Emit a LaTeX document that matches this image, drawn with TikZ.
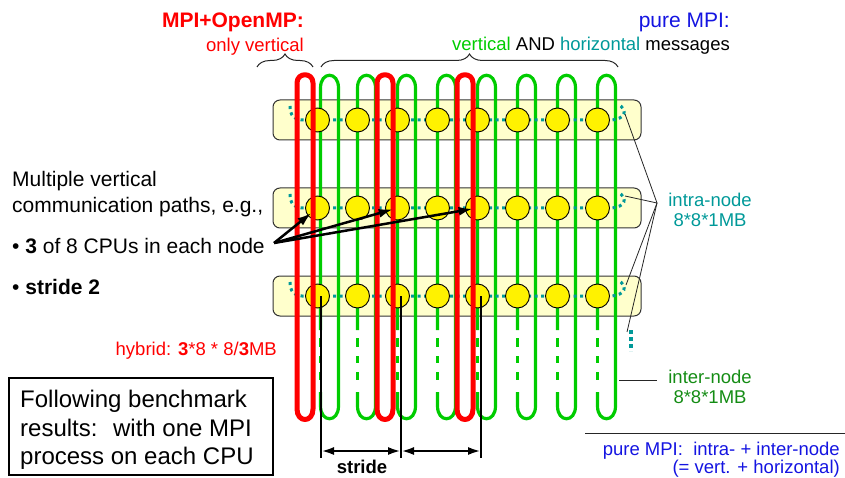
\documentclass[tikz,border=0pt]{standalone}
\usepackage{fontspec}
\setmainfont{Liberation Sans}
\usetikzlibrary{arrows.meta,decorations.pathreplacing}
\definecolor{cred}{RGB}{255,0,0}
\definecolor{cgreen}{RGB}{0,204,0}
\definecolor{cteal}{RGB}{0,153,153}
\definecolor{cdkgreen}{RGB}{20,140,20}
\definecolor{cblue}{RGB}{20,20,225}
\definecolor{cbox}{RGB}{255,255,204}
\begin{document}
\begin{tikzpicture}[x=1pt,y=-1pt,
  nodebox/.style={draw=black!80,fill=cbox,rounded corners=7pt,line width=1pt,minimum width=368pt,minimum height=40pt,inner sep=0pt},
  cpu/.style={circle,draw=black,fill=yellow,line width=0.9pt,minimum size=24pt,inner sep=0pt},
  gloop/.style={draw=cgreen,line width=3.2pt},
  gdash/.style={draw=cgreen,line width=3.2pt,dash pattern=on 9pt off 9pt on 7pt off 9pt on 8pt off 20pt},
  rloop/.style={draw=cred,line width=5pt,line join=round},
  hdots/.style={draw=cteal,line width=3pt,dash pattern=on 3pt off 3.5pt},
  pointer/.style={draw=black!85,line width=0.8pt},
  bigarrow/.style={draw=black,line width=2.5pt,-{Latex[length=14pt,width=9pt]}},
  dimarrow/.style={draw=black,line width=2.5pt,{Latex[length=13pt,width=8pt]}-{Latex[length=13pt,width=8pt]}},
  stridel/.style={draw=black,line width=2pt},
  bracestyle/.style={draw=black!85,line width=1pt,decorate,decoration={brace,amplitude=13pt}},
  txt/.style={inner sep=0pt,font=\fontsize{18.5}{22}\selectfont},
  bigtxt/.style={inner sep=0pt,font=\fontsize{21}{25}\selectfont},
  boxtxt/.style={inner sep=0pt,font=\fontsize{24}{28}\selectfont}
]
\useasboundingbox (0,0) rectangle (845,478);

% node boxes
\foreach \r/\y in {1/120,2/208,3/296} \node[nodebox] (box\r) at (457,\y) {};

% green loops
\foreach \k in {0,...,7} {
  \pgfmathsetmacro{\c}{317.5+40*\k+3*(\k==0)}
  \pgfmathsetmacro{\d}{\c+18}
  \draw[gloop] (\c,330) -- (\c,88) .. controls (\c,71) and (\d,71) .. (\d,88) -- (\d,406) .. controls (\d,423) and (\c,423) .. (\c,406) -- (\c,392);
  \draw[gdash] (\c,338) -- (\c,392);
}

% horizontal (intra-node) dotted paths
\foreach \r/\y in {1/120,2/208,3/296} {
  \draw[hdots] (290,\y-14) .. controls (290,\y-5) and (294,\y) .. (302,\y) -- (611,\y) .. controls (626,\y-1) and (628,\y-10) .. (618,\y-16);
}
\draw[cteal,line width=4pt,dash pattern=on 4pt off 3pt] (631,330) -- (631,351);

% CPUs
\foreach \r/\y in {1/120,2/208,3/296}
  \foreach \k in {0,...,7}
    \node[cpu] (c\r\k) at ({317.5+40*\k},\y) {};

% red hybrid loops
\foreach \k in {0,2,4} {
  \pgfmathsetmacro{\a}{317.5+40*\k-20.5}
  \pgfmathsetmacro{\b}{317.5+40*\k-4.5}
  \draw[rloop] (\a,409) -- (\a,83) .. controls (\a,72) and (\b,72) .. (\b,83) -- (\b,409) .. controls (\b,423) and (\a,423) .. (\a,409) -- cycle;
}

% stride markers
\coordinate (s0) at (321,296); \coordinate (s0b) at (321,458);
\coordinate (s2) at (401,296); \coordinate (s2b) at (401,458);
\coordinate (s4) at (481,296); \coordinate (s4b) at (481,458);
\draw[stridel] (s0) -- (s0b);
\draw[stridel] (s2) -- (s2b);
\draw[stridel] (s4) -- (s4b);
\coordinate (m0) at (321,451); \coordinate (m2) at (401,451); \coordinate (m4) at (481,451);
\draw[dimarrow] (m0) -- (m2);
\draw[dimarrow] (m2) -- (m4);
\node[txt,font=\fontsize{18.5}{22}\selectfont\bfseries,anchor=base] (stridelbl) at (362,473) {stride};

% top labels and braces
\node[bigtxt,font=\fontsize{21}{25}\selectfont\bfseries,text=cred,anchor=base east] (hyb) at (304,27.5) {MPI+OpenMP:};
\node[txt,text=cred,anchor=base east] (onlyv) at (304,52) {only vertical};
\node[bigtxt,text=cblue,anchor=base east] (pure) at (730,28) {pure MPI:};
\node[txt,anchor=base east] (vandh) at (730,51) {\textcolor{cgreen}{vertical} AND \textcolor{cteal}{horizontal} messages};
\draw[bracestyle] (257,67) -- (313,67);
\draw[bracestyle] (321,67) -- (618,67);

% left explanation
\node[bigtxt,anchor=base west] (l1) at (12,187) {Multiple vertical};
\node[bigtxt,anchor=base west] (l2) at (12,213) {communication paths, e.g.,};
\node[bigtxt,anchor=base west] (l3) at (12,253) {\textbullet\ \textbf{3} of 8 CPUs in each node};
\node[bigtxt,anchor=base west] (l4) at (12,294) {\textbullet\ \textbf{stride 2}};
\coordinate (astart) at (274,243);
\draw[bigarrow,shorten >=8pt] (astart) -- (c20.center);
\draw[bigarrow,shorten >=5pt] (astart) -- (c22.center);
\draw[bigarrow,shorten >=5pt] (astart) -- (c24.center);

\node[txt,text=cred,anchor=base east] (hybmb) at (277,355) {hybrid: \textbf{3}*8 * 8/\textbf{3}MB};

% benchmark box
\node[draw=black,line width=1.2pt,minimum width=264pt,minimum height=97pt,inner sep=0pt] (bench) at (141,426.5) {};
\node[boxtxt,anchor=base west] (b1) at (20,407) {Following benchmark};
\node[boxtxt,anchor=base west] (b2) at (20,436) {results:~ with one MPI};
\node[boxtxt,anchor=base west] (b3) at (20,464) {process on each CPU};

% right labels
\node[txt,text=cteal,anchor=base] (intra1) at (710,207) {intra-node};
\node[txt,text=cteal,anchor=base] (intra2) at (710,227) {8*8*1MB};
\coordinate (ip) at (657,203);
\coordinate (h1) at (625,114);
\coordinate (h2) at (625,196);
\coordinate (h3) at (626,285);
\coordinate (h4) at (627,332);
\draw[pointer] (ip) -- (h1);
\draw[pointer] (ip) -- (h2);
\draw[pointer] (ip) -- (h3);
\draw[pointer] (ip) -- (h4);

\node[txt,text=cdkgreen,anchor=base] (inter1) at (710,383) {inter-node};
\node[txt,text=cdkgreen,anchor=base] (inter2) at (710,403) {8*8*1MB};
\coordinate (gp) at (619,380);
\coordinate (gq) at (657,380);
\draw[pointer] (gp) -- (gq);

\coordinate (rl1) at (585,433);
\coordinate (rl2) at (845,433);
\draw[pointer] (rl1) -- (rl2);
\node[txt,text=cblue,anchor=base east] (sum1) at (840,455) {pure MPI:~ intra- + inter-node};
\node[txt,text=cblue,anchor=base east] (sum2) at (840,473) {(= vert. + horizontal)};
\end{tikzpicture}
\end{document}
